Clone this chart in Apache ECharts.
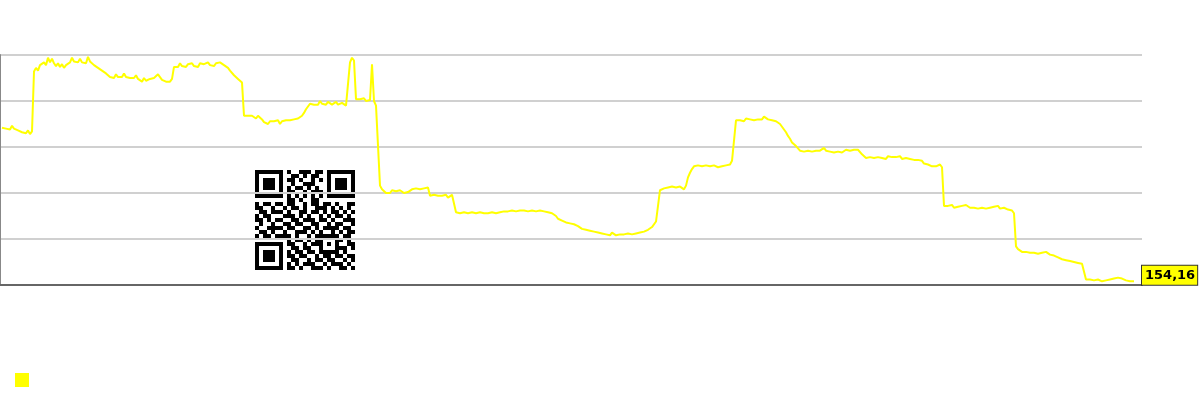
<!DOCTYPE html>
<html><head><meta charset="utf-8">
<script src="https://cdn.jsdelivr.net/npm/echarts@6/dist/echarts.min.js"></script>
<style>html,body{margin:0;padding:0;background:#fff}#c{width:1200px;height:400px}</style>
</head><body><div id="c"></div>
<script>
// series name (legend shows only the colour square)
const seriesName = ' ';
// y-axis scale (labels hidden in the reference)
const yMin = 150, yMax = 400, yStep = 50;
// values, one per sample (evenly spaced samples)
const values = [
321,323,320,322,319,323,320,321,318,320,316,318,315,318,314,317,
382,386,383,389,387,392,389,397,392,396,391,388,391,387,390,386,389,388,392,397,393,395,392,396,392,394,391,398,393,392,389,390,386,386,383,385,380,378,
376,378,375,379,376,378,376,380,376,378,375,377,375,378,374,373,371,375,372,371,374,373,375,376,379,377,373,374,371,373,371,374,
387,389,387,391,388,389,387,390,388,391,388,389,387,391,389,390,388,392,389,390,388,391,389,392,390,389,387,386,383,382,378,378,374,374,370,
334,332,334,332,334,333,331,334,333,330,327,329,325,328,326,328,327,329,325,328,327,329,327,329,328,330,329,331,331,334,337,341,344,347,
348,346,348,346,350,347,348,346,349,347,346,348,349,346,346,348,346,345,346,
392,397,394,352,350,352,350,353,350,352,351,390,350,345,344,
258,254,252,250,252,250,253,251,252,250,253,251,250,252,251,253,254,252,255,253,254,252,255,254,256,
247,246,248,246,247,245,247,246,248,245,247,248,246,
229,227,228,226,229,227,228,226,229,227,228,226,229,227,228,226,228,227,229,227,228,230,229,228,230,228,230,229,231,229,230,232,
231,233,231,232,230,232,231,233,230,232,231,229,230,231,229,230,228,226,225,222,222,220,220,218,219,217,218,216,215,214,213,211,
212,210,211,209,209,208,209,207,208,206,207,205,206,204,207,205,204,206,205,203,205,204,206,204,205,203,206,205,207,206,208,207,210,209,213,214,219,220,
253,254,255,253,256,254,257,255,256,254,257,255,254,258,267,272,276,279,278,280,278,279,277,280,278,279,277,280,279,278,280,279,281,280,282,281,285,287,
329,331,329,330,328,331,329,330,332,329,331,330,332,330,333,331,330,331,329,330,328,327,325,322,320,316,312,309,305,306,301,299,
296,298,295,297,296,298,295,297,296,298,296,297,299,296,297,295,296,294,293,295,293,294,295,297,298,296,298,297,296,297,295,
292,290,288,290,289,291,288,290,289,291,288,289,287,290,288,289,287,289,288,290,287,289,288,290,287,288,286,288,286,284,285,282,283,281,280,279,281,279,280,281,278,
236,234,236,235,237,234,236,235,234,236,235,237,235,234,236,234,235,233,235,234,236,233,235,234,233,235,234,236,233,235,234,233,232,233,231,228,
192,189,188,186,188,186,187,185,187,185,186,184,186,185,184,186,185,183,184,182,182,180,180,178,179,177,178,176,177,175,176,174,175,173,173,
156,155,156,154,155,154,156,155,154,156,155,157,156,158,157,156,158,159,157,156,155,156,154,155,154.16
];
const fmt = v => v.toFixed(2).replace('.', ',');

// QR code image shown on the chart (1 = dark module)
const qrRows = [
"1111111010011101101111111",
"1000001001101011001000001",
"1011101011010010101011101",
"1011101001001110001011101",
"1011101010110101001011101",
"1000001011001011101000001",
"1111111010101010101111111",
"0000000011010011000000000",
"1011011011001011011010011",
"1100100101101001110101010",
"0110111010011011010110101",
"1011000111010100101011010",
"1101011001101110110100111",
"0100100110110011001011001",
"1001111011001101011110110",
"0110100100111010100101011",
"1011011110100101111110110",
"0000000010110101100011010",
"1111111011001011101010011",
"1000001001101100100011101",
"1011101010110110111110100",
"1011101011011001011011011",
"1011101001100101101100101",
"1000001010101110010111010",
"1111111011010011101001101"
];
const qrChildren = [];
qrRows.forEach((row, r) => {
  let c = 0;
  while (c < row.length) {
    if (row[c] === '1') {
      let e = c;
      while (e < row.length && row[e] === '1') e++;
      qrChildren.push({type: 'rect', shape: {x: 5 + c * 4, y: 5 + r * 4, width: (e - c) * 4, height: 4}, style: {fill: '#000'}});
      c = e;
    } else c++;
  }
});

const chart = echarts.init(document.getElementById('c'), null, {renderer:'canvas'});
const data = values.map((v, i) => [i + 1, v]);
chart.setOption({
  animation: false,
  backgroundColor: '#ffffff',
  grid: {left: 0, right: 58, top: 55, bottom: 115, containLabel: false},
  legend: {
    left: 10, top: 368, itemWidth: 14, itemHeight: 14, itemGap: 10,
    icon: 'rect', data: [seriesName], textStyle: {fontSize: 12, color: '#333'}
  },
  xAxis: {
    type: 'value', min: 0, max: 571,
    axisLine: {show: true, lineStyle: {color: '#666', width: 2}},
    axisTick: {show: false}, axisLabel: {show: false}, splitLine: {show: false}
  },
  yAxis: {
    type: 'value', min: yMin, max: yMax, interval: yStep,
    axisLine: {show: true, lineStyle: {color: '#888', width: 2}},
    axisTick: {show: false}, axisLabel: {show: false},
    splitLine: {show: true, lineStyle: {color: '#d0d0d0', width: 2}}
  },
  series: [{
    name: seriesName, type: 'line', data: data, showSymbol: false, symbol: 'none',
    color: '#ffff00',
    lineStyle: {color: '#ffff00', width: 2},
    endLabel: {
      show: true, distance: 8, offset: [0, -6],
      formatter: p => fmt(p.value[1]),
      fontFamily: 'DejaVu Sans', fontWeight: 'bold', fontSize: 13, color: '#000',
      backgroundColor: '#ffff00', borderColor: '#333', borderWidth: 1,
      padding: [3, 2, 2, 3], lineHeight: 14
    }
  }],
  graphic: [{
    type: 'group', left: 250, top: 165, z: 100,
    children: [{type: 'rect', shape: {x: 0, y: 0, width: 110, height: 110}, style: {fill: '#ffffff'}}].concat(qrChildren)
  }]
});
</script></body></html>
